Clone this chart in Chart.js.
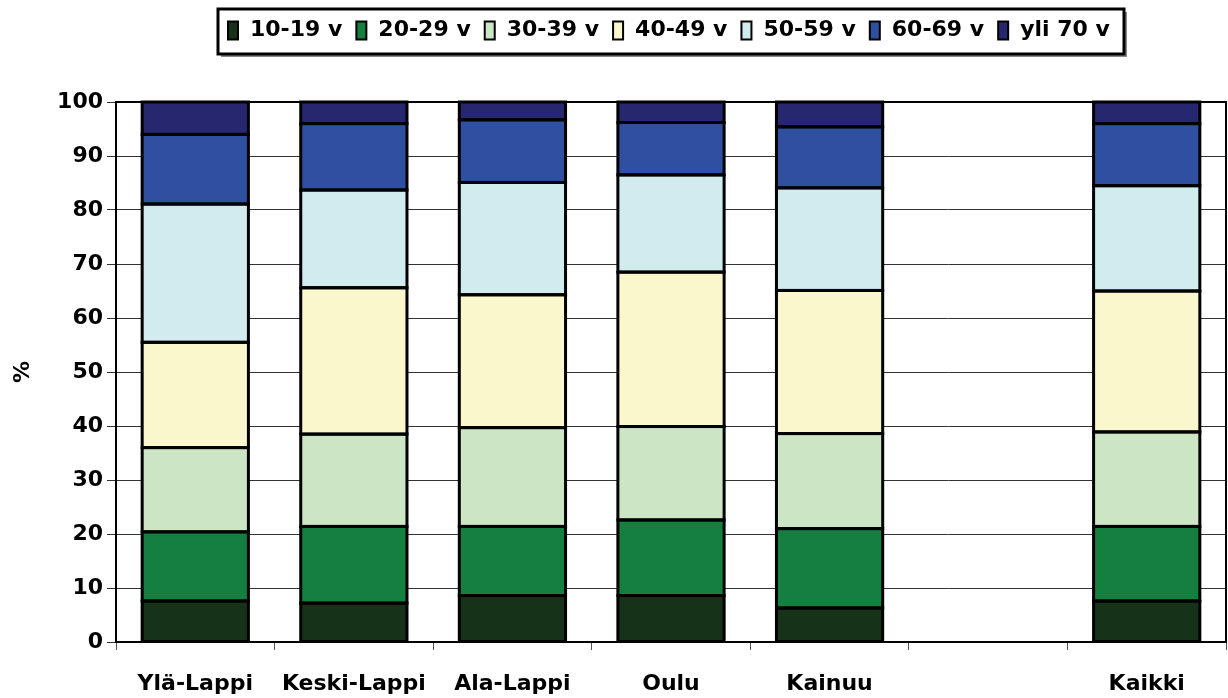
<!DOCTYPE html>
<html>
<head>
<meta charset="utf-8">
<script src="https://cdn.jsdelivr.net/npm/chart.js@4"></script>
<style>
  html, body { margin: 0; padding: 0; background: #fff; }
  #wrap { width: 1228px; height: 698px; }
</style>
</head>
<body>
<div id="wrap"><canvas id="chart" width="1228" height="698"></canvas></div>
<script>
const regions = ["Ylä-Lappi", "Keski-Lappi", "Ala-Lappi", "Oulu", "Kainuu", "", "Kaikki"];
const ageGroups = ["10-19 v", "20-29 v", "30-39 v", "40-49 v", "50-59 v", "60-69 v", "yli 70 v"];
const groupColors = ["#163219", "#147F3F", "#CCE5C5", "#FAF7CD", "#D0ECEF", "#2F50A1", "#26276F"];

// share (%) of each age group per region, empty slot is a spacer
const age10 = [7.6, 7.2, 8.6, 8.6, 6.3, null, 7.6];
const age20 = [12.8, 14.2, 12.8, 14.0, 14.7, null, 13.8];
const age30 = [15.6, 17.1, 18.3, 17.3, 17.6, null, 17.5];
const age40 = [19.5, 27.1, 24.6, 28.6, 26.5, null, 26.1];
const age50 = [25.6, 18.1, 20.8, 18.0, 19.0, null, 19.5];
const age60 = [12.9, 12.3, 11.6, 9.7, 11.3, null, 11.5];
const age70 = [6.0, 4.0, 3.3, 3.8, 4.6, null, 4.0];

const yTicks = [0, 10, 20, 30, 40, 50, 60, 70, 80, 90, 100];

const FONT = "'DejaVu Sans', sans-serif";
const seriesValues = [age10, age20, age30, age40, age50, age60, age70];

const datasets = ageGroups.map((name, i) => ({
  label: name,
  data: seriesValues[i],
  backgroundColor: groupColors[i],
  borderWidth: 0,
  inflateAmount: 0,
  categoryPercentage: 1,
  barPercentage: 0.67
}));

// legend in a framed box above the plot
const boxLegend = {
  id: "boxLegend",
  afterDraw(chart) {
    const ctx = chart.ctx;
    const fx = 218, fy = 9, fw = 906, fh = 45;
    ctx.save();
    ctx.fillStyle = "#8a8a8a";
    ctx.fillRect(fx + 3, fy + fh, fw, 3);
    ctx.fillRect(fx + fw, fy + 3, 3, fh);
    ctx.strokeStyle = "#000";
    ctx.lineWidth = 3;
    ctx.strokeRect(fx, fy, fw, fh);

    ctx.font = "bold 22px " + FONT;
    ctx.textBaseline = "middle";
    ctx.textAlign = "left";
    let x = fx + 10;
    const cy = fy + fh / 2 - 1;
    chart.data.datasets.forEach(ds => {
      ctx.fillStyle = ds.backgroundColor;
      ctx.fillRect(x, cy - 9, 10, 18);
      ctx.lineWidth = 2;
      ctx.strokeStyle = "#000";
      ctx.strokeRect(x, cy - 9, 10, 18);
      ctx.fillStyle = "#000";
      ctx.fillText(ds.label, x + 22, cy);
      x += 22 + ctx.measureText(ds.label).width + 14;
    });
    ctx.restore();
  }
};

// black outlines on every bar segment + frame around the plot
const outlines = {
  id: "outlines",
  afterDatasetsDraw(chart) {
    const ctx = chart.ctx;
    const a = chart.chartArea;
    ctx.save();
    ctx.strokeStyle = "#000";
    ctx.lineWidth = 3;
    chart.data.datasets.forEach((ds, i) => {
      chart.getDatasetMeta(i).data.forEach((bar, j) => {
        if (ds.data[j] == null) return;
        const p = bar.getProps(["x", "y", "base", "width"], true);
        const top = Math.min(p.y, p.base), h = Math.abs(p.base - p.y);
        ctx.strokeRect(p.x - p.width / 2, top, p.width, h);
      });
    });
    ctx.lineWidth = 2;
    ctx.strokeRect(a.left, a.top, a.right - a.left, a.bottom - a.top);
    ctx.restore();
  }
};

new Chart(document.getElementById("chart"), {
  type: "bar",
  data: { labels: regions, datasets: datasets },
  plugins: [boxLegend, outlines],
  options: {
    responsive: false,
    animation: false,
    layout: { padding: { top: 102, right: 2, left: 0, bottom: 0 } },
    plugins: {
      legend: { display: false },
      tooltip: { enabled: false }
    },
    scales: {
      x: {
        stacked: true,
        grid: { display: true, drawOnChartArea: false, drawTicks: true, tickLength: 8, color: "#555", offset: true },
        border: { display: false },
        ticks: { font: { family: FONT, size: 22, weight: "bold" }, color: "#000", padding: 21, maxRotation: 0, autoSkip: false },
        afterFit(scale) { scale.height = 56; }
      },
      y: {
        stacked: true,
        min: 0,
        max: 100,
        afterBuildTicks(scale) { scale.ticks = yTicks.map(v => ({ value: v })); },
        grid: { color: "#333", lineWidth: 1, tickLength: 9, drawTicks: true },
        border: { display: false },
        ticks: { font: { family: FONT, size: 22, weight: "bold" }, color: "#000", padding: 4 },
        title: { display: true, text: "%", font: { family: FONT, size: 22, weight: "bold" }, color: "#000", padding: { top: 10, bottom: 0 } },
        afterFit(scale) { scale.width = 116; }
      }
    }
  }
});
</script>
</body>
</html>
